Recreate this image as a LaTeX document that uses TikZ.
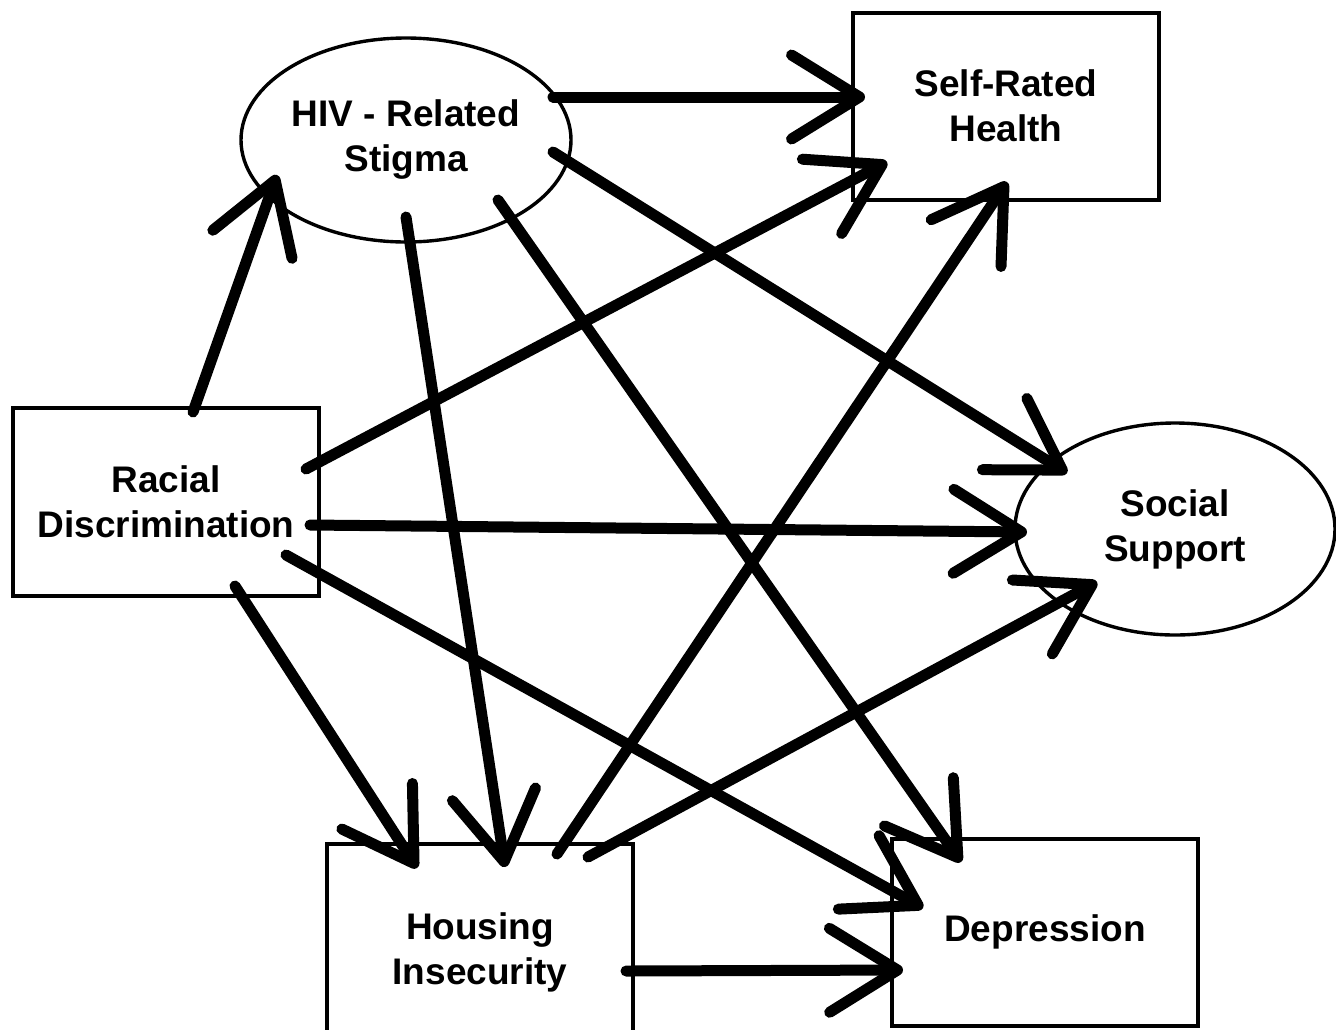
\documentclass[tikz,border=0pt]{standalone}
\usepackage{fontspec}
\setsansfont{Liberation Sans}
\usepackage{tikz}
\usetikzlibrary{arrows.meta,shapes,calc}

\begin{document}
\begin{tikzpicture}[x=0.5pt, y=-0.5pt]
    \sffamily\bfseries

    \tikzset{AR/.style={draw=black,line width=5.5pt,line cap=round,-{Straight Barb[length=34pt,width=42pt,round]}}}
    \tikzset{BX/.style={draw=black,line width=2pt,shape=rectangle,align=center,minimum width=153pt,minimum height=93.5pt,font=\fontsize{18.5}{22.5}\selectfont\sffamily\bfseries}}
    \tikzset{EL/.style={draw=black,line width=1.7pt,shape=ellipse,inner sep=0pt,align=center,font=\fontsize{18.5}{22.5}\selectfont\sffamily\bfseries}}

    \useasboundingbox (0,0) rectangle (1336,1029);
    \clip (0,0) rectangle (1336,1029);

    \node (hiv) [EL, minimum width=165pt, minimum height=102pt] at (406, 140) {HIV - Related\\Stigma};
    \node (srh) [BX] at (1006, 106) {Self-Rated\\Health};
    \node (rd) [BX, minimum height=94pt] at (166, 502) {Racial\\Discrimination};
    \node (ss) [EL, minimum width=160pt, minimum height=106pt] at (1175, 529) {Social\\Support};
    \node (hi) [BX, minimum height=108pt] at (480, 952) {Housing\\Insecurity};
    \node (dep) [BX] at (1045, 932) {Depression};

    % from racial discrimination
    \path[AR] ($(rd)+(27,-90)$) -- ($(hiv)+(-129,35)$);
    \path[AR] ($(rd)+(140,-33)$) -- ($(srh)+(-119,56)$);
    \path[AR] ($(rd)+(144,23)$) -- ($(ss)+(-148,3)$);
    \path[AR] ($(rd)+(120,53)$) -- ($(dep)+(-122,-24)$);
    \path[AR] ($(rd)+(69,84)$) -- ($(hi)+(-63,-84)$);
    % from stigma
    \path[AR] ($(hiv)+(147,-43)$) -- ($(srh)+(-141,-9)$);
    \path[AR] ($(hiv)+(147,12)$) -- ($(ss)+(-108,-56)$);
    \path[AR] ($(hiv)+(0,77)$) -- ($(hi)+(25,-85)$);
    \path[AR] ($(hiv)+(92,60)$) -- ($(dep)+(-84,-70)$);
    % from housing insecurity
    \path[AR] ($(hi)+(77,-98)$) -- ($(srh)+(1,76)$);
    \path[AR] ($(hi)+(108,-95)$) -- ($(ss)+(-78,53)$);
    \path[AR] ($(hi)+(146,19)$) -- ($(dep)+(-142,38)$);
\end{tikzpicture}
\end{document}
